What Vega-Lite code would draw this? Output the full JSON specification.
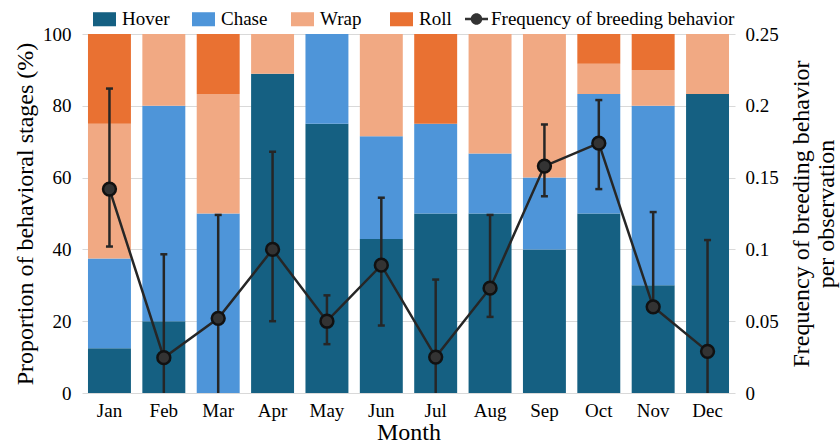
{
  "$schema": "https://vega.github.io/schema/vega-lite/v6.json",
  "width": 653,
  "height": 359,
  "autosize": {"type": "none"},
  "padding": {"left": 82, "top": 34, "right": 105, "bottom": 52},
  "background": "white",
  "config": {
    "font": "Liberation Serif",
    "view": {"stroke": null},
    "axis": {"labelColor": "#000", "titleColor": "#000", "labelFontSize": 19, "titleFontSize": 24, "titleFontWeight": "normal", "domain": false, "ticks": false},
    "legend": {"labelFontSize": 19, "labelColor": "#000", "padding": 0, "labelLimit": 400}
  },
  "datasets": {
    "stages": [
      {"month": "Jan", "stage": "Hover", "pct": 12.5},
      {"month": "Jan", "stage": "Chase", "pct": 25},
      {"month": "Jan", "stage": "Wrap", "pct": 37.5},
      {"month": "Jan", "stage": "Roll", "pct": 25},
      {"month": "Feb", "stage": "Hover", "pct": 20},
      {"month": "Feb", "stage": "Chase", "pct": 60},
      {"month": "Feb", "stage": "Wrap", "pct": 20},
      {"month": "Mar", "stage": "Chase", "pct": 50},
      {"month": "Mar", "stage": "Wrap", "pct": 33.3},
      {"month": "Mar", "stage": "Roll", "pct": 16.7},
      {"month": "Apr", "stage": "Hover", "pct": 88.9},
      {"month": "Apr", "stage": "Wrap", "pct": 11.1},
      {"month": "May", "stage": "Hover", "pct": 75},
      {"month": "May", "stage": "Chase", "pct": 25},
      {"month": "Jun", "stage": "Hover", "pct": 42.9},
      {"month": "Jun", "stage": "Chase", "pct": 28.6},
      {"month": "Jun", "stage": "Wrap", "pct": 28.5},
      {"month": "Jul", "stage": "Hover", "pct": 50},
      {"month": "Jul", "stage": "Chase", "pct": 25},
      {"month": "Jul", "stage": "Roll", "pct": 25},
      {"month": "Aug", "stage": "Hover", "pct": 50},
      {"month": "Aug", "stage": "Chase", "pct": 16.7},
      {"month": "Aug", "stage": "Wrap", "pct": 33.3},
      {"month": "Sep", "stage": "Hover", "pct": 40},
      {"month": "Sep", "stage": "Chase", "pct": 20},
      {"month": "Sep", "stage": "Wrap", "pct": 40},
      {"month": "Oct", "stage": "Hover", "pct": 50},
      {"month": "Oct", "stage": "Chase", "pct": 33.3},
      {"month": "Oct", "stage": "Wrap", "pct": 8.4},
      {"month": "Oct", "stage": "Roll", "pct": 8.3},
      {"month": "Nov", "stage": "Hover", "pct": 30},
      {"month": "Nov", "stage": "Chase", "pct": 50},
      {"month": "Nov", "stage": "Wrap", "pct": 10},
      {"month": "Nov", "stage": "Roll", "pct": 10},
      {"month": "Dec", "stage": "Hover", "pct": 83.3},
      {"month": "Dec", "stage": "Wrap", "pct": 16.7}
    ],
    "freq": [
      {"month": "Jan", "series": "Frequency of breeding behavior", "f": 0.142, "lo": 0.102, "hi": 0.212},
      {"month": "Feb", "series": "Frequency of breeding behavior", "f": 0.0246, "lo": 0, "hi": 0.0966},
      {"month": "Mar", "series": "Frequency of breeding behavior", "f": 0.052, "lo": 0, "hi": 0.124},
      {"month": "Apr", "series": "Frequency of breeding behavior", "f": 0.1, "lo": 0.05, "hi": 0.168},
      {"month": "May", "series": "Frequency of breeding behavior", "f": 0.05, "lo": 0.034, "hi": 0.068},
      {"month": "Jun", "series": "Frequency of breeding behavior", "f": 0.089, "lo": 0.047, "hi": 0.136},
      {"month": "Jul", "series": "Frequency of breeding behavior", "f": 0.025, "lo": 0, "hi": 0.079},
      {"month": "Aug", "series": "Frequency of breeding behavior", "f": 0.073, "lo": 0.053, "hi": 0.124},
      {"month": "Sep", "series": "Frequency of breeding behavior", "f": 0.158, "lo": 0.137, "hi": 0.187},
      {"month": "Oct", "series": "Frequency of breeding behavior", "f": 0.174, "lo": 0.142, "hi": 0.204},
      {"month": "Nov", "series": "Frequency of breeding behavior", "f": 0.06, "lo": 0.06, "hi": 0.126},
      {"month": "Dec", "series": "Frequency of breeding behavior", "f": 0.029, "lo": 0, "hi": 0.1065}
    ]
  },
  "layer": [
    {
      "data": {"name": "stages"},
      "transform": [{"calculate": "indexof(['Hover','Chase','Wrap','Roll'], datum.stage)", "as": "stackRank"}],
      "mark": {"type": "bar"},
      "encoding": {
        "x": {
          "field": "month", "type": "nominal",
          "sort": ["Jan","Feb","Mar","Apr","May","Jun","Jul","Aug","Sep","Oct","Nov","Dec"],
          "scale": {"paddingInner": 0.21, "paddingOuter": 0.11},
          "axis": {"title": "Month", "labelAngle": 0, "labelPadding": 8, "titlePadding": 0, "labelFont": "Liberation Serif", "titleFont": "Liberation Serif"}
        },
        "y": {
          "field": "pct", "type": "quantitative", "stack": "zero",
          "scale": {"domain": [0, 100], "nice": false},
          "axis": {"title": "Proportion of behavioral stages (%)", "values": [0,20,40,60,80,100], "grid": true, "gridColor": "#d9d9d9", "labelPadding": 11, "titlePadding": 5, "labelFont": "Liberation Serif", "titleFont": "Liberation Serif"}
        },
        "color": {
          "field": "stage", "type": "nominal",
          "sort": ["Hover", "Chase", "Wrap", "Roll"],
          "scale": {"domain": ["Hover", "Chase", "Wrap", "Roll"], "range": ["#156082", "#4E95D9", "#F1A983", "#E97132"]},
          "legend": {
            "title": null, "orient": "none", "legendX": 11, "legendY": -26.5,
            "direction": "horizontal", "columns": 4, "gridAlign": "all", "columnPadding": 22,
            "symbolType": "M-1,-0.61H1V0.61H-1Z", "symbolSize": 529, "symbolStrokeWidth": 0,
            "labelOffset": 6, "labelFont": "Liberation Serif"
          }
        },
        "order": {"field": "stackRank", "type": "quantitative", "sort": "ascending"}
      }
    },
    {
      "data": {"name": "freq"},
      "encoding": {
        "x": {"field": "month", "type": "nominal", "sort": ["Jan","Feb","Mar","Apr","May","Jun","Jul","Aug","Sep","Oct","Nov","Dec"]}
      },
      "layer": [
        {
          "mark": {"type": "rule", "color": "#262626", "strokeWidth": 2.5},
          "encoding": {
            "y": {"field": "lo", "type": "quantitative", "scale": {"domain": [0, 0.25], "nice": false},
              "axis": {"orient": "right", "title": ["Frequency of breeding behavior", "per observation"], "values": [0, 0.05, 0.1, 0.15, 0.2, 0.25], "format": ".2~f", "grid": false, "labelPadding": 10, "titleAngle": 270, "titlePadding": 10, "titleLineHeight": 25, "labelFont": "Liberation Serif", "titleFont": "Liberation Serif"}},
            "y2": {"field": "hi"}
          }
        },
        {
          "mark": {"type": "tick", "color": "#262626", "thickness": 2.5, "size": 7, "opacity": 1},
          "encoding": {"y": {"field": "hi", "type": "quantitative"}}
        },
        {
          "transform": [{"filter": "datum.lo > 0"}],
          "mark": {"type": "tick", "color": "#262626", "thickness": 2.5, "size": 7, "opacity": 1},
          "encoding": {"y": {"field": "lo", "type": "quantitative"}}
        },
        {
          "mark": {"type": "line", "color": "#262626", "strokeWidth": 2.5},
          "encoding": {"y": {"field": "f", "type": "quantitative"}}
        },
        {
          "mark": {"type": "point", "filled": true, "size": 165, "stroke": "#111111", "strokeWidth": 2.5, "opacity": 1},
          "encoding": {
            "y": {"field": "f", "type": "quantitative"},
            "fill": {"field": "series", "type": "nominal", "scale": {"range": ["#333333"]},
              "legend": {"title": null, "orient": "none", "legendX": 383, "legendY": -26.5,
                "symbolType": "M-1,-0.11H1V0.11H-1Z M0.5,0A0.5,0.5,0,1,1,-0.5,0A0.5,0.5,0,1,1,0.5,0Z",
                "symbolSize": 529, "symbolStrokeWidth": 0, "symbolFillColor": "#1a1a1a", "symbolOpacity": 1, "labelOffset": 3, "labelFont": "Liberation Serif"}}
          }
        }
      ]
    }
  ],
  "resolve": {"scale": {"y": "independent"}}
}
